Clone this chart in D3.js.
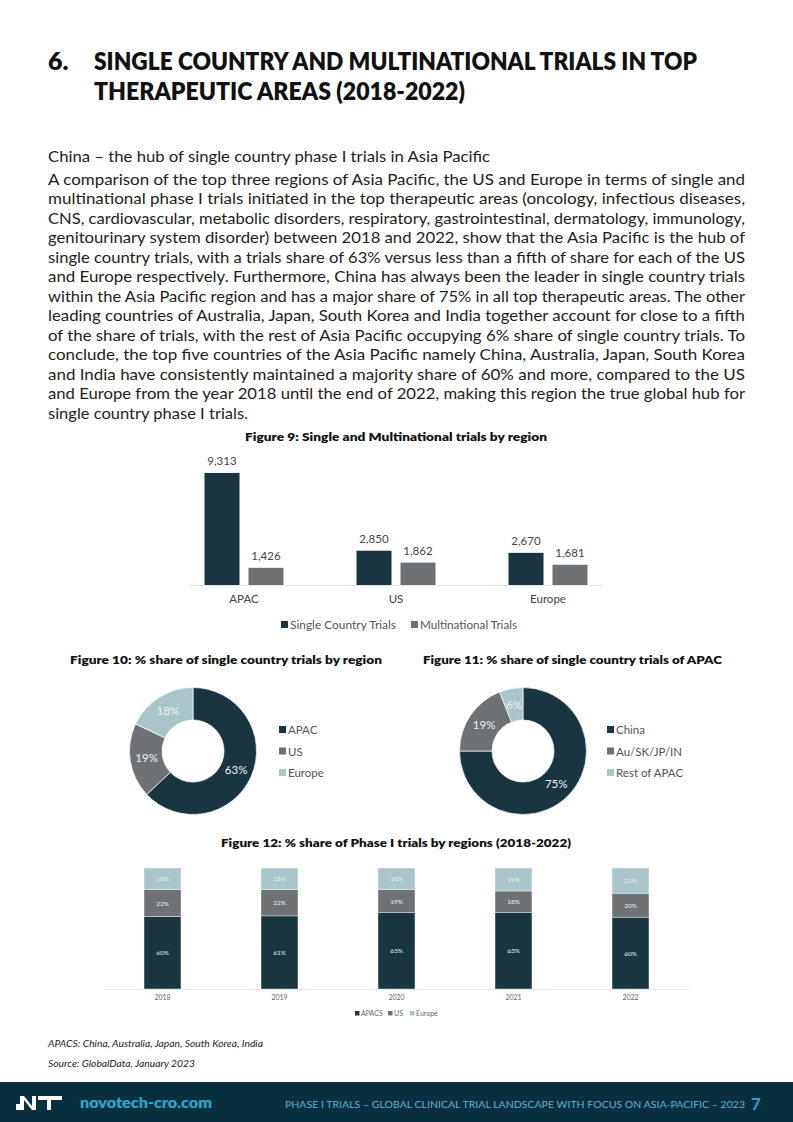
<!DOCTYPE html>
<html><head><meta charset="utf-8">
<script src="https://cdn.jsdelivr.net/npm/d3@7"></script>
<style>
html,body{margin:0;padding:0;background:#fff;}
svg{display:block;}
text{font-family:"Lato","Noto Sans",sans-serif;}
</style></head>
<body>
<svg id="page" width="793" height="1122"></svg>
<script>
// ---------- DATA ----------
const titleLines = ["SINGLE COUNTRY AND MULTINATIONAL TRIALS IN TOP", "THERAPEUTIC AREAS (2018-2022)"];
const subHeading = "China – the hub of single country phase I trials in Asia Pacific";
const paragraph = [
 "A comparison of the top three regions of Asia Pacific, the US and Europe in terms of single and",
 "multinational phase I trials initiated in the top therapeutic areas (oncology, infectious diseases,",
 "CNS, cardiovascular, metabolic disorders, respiratory, gastrointestinal, dermatology, immunology,",
 "genitourinary system disorder) between 2018 and 2022, show that the Asia Pacific is the hub of",
 "single country trials, with a trials share of 63% versus less than a fifth of share for each of the US",
 "and Europe respectively. Furthermore, China has always been the leader in single country trials",
 "within the Asia Pacific region and has a major share of 75% in all top therapeutic areas. The other",
 "leading countries of Australia, Japan, South Korea and India together account for close to a fifth",
 "of the share of trials, with the rest of Asia Pacific occupying 6% share of single country trials. To",
 "conclude, the top five countries of the Asia Pacific namely China, Australia, Japan, South Korea",
 "and India have consistently maintained a majority share of 60% and more, compared to the US",
 "and Europe from the year 2018 until the end of 2022, making this region the true global hub for",
 "single country phase I trials."
];

// Figure 9
const fig9Regions = ["APAC", "US", "Europe"];
const fig9Series = ["Single Country Trials", "Multinational Trials"];
const fig9Single = [9313, 2850, 2670];
const fig9Multi = [1426, 1862, 1681];

// Figure 10
const fig10Labels = ["APAC", "US", "Europe"];
const fig10Values = [63, 19, 18];

// Figure 11
const fig11Labels = ["China", "Au/SK/JP/IN", "Rest of APAC"];
const fig11Values = [75, 19, 6];

// Figure 12
const fig12Years = ["2018", "2019", "2020", "2021", "2022"];
const fig12Series = ["APACS", "US", "Europe"];
const fig12APACS = [60, 61, 63, 63, 60];
const fig12US = [22, 22, 19, 18, 20];
const fig12Europe = [18, 18, 18, 19, 21];

const notes = ["APACS: China, Australia, Japan, South Korea, India", "Source: GlobalData, January 2023"];
const footerSite = "novotech-cro.com";
const footerText = "PHASE I TRIALS – GLOBAL CLINICAL TRIAL LANDSCAPE WITH FOCUS ON ASIA-PACIFIC – 2023";
const pageNum = "7";

// ---------- STYLE ----------
const C_DARK = "#183540", C_GRAY = "#6e7275", C_LIGHT = "#a9c5c9";
const svg = d3.select("#page");
const TXT = "#1d1d1b";

// ---------- HEADER ----------
svg.append("text").attr("x", 48).attr("y", 70).attr("font-size", 25).attr("font-weight", 800)
  .attr("fill", "#111").text("6.");
titleLines.forEach((t, i) => {
  svg.append("text").attr("x", 94).attr("y", 70 + i * 30).attr("font-size", 25).attr("font-weight", 800)
    .attr("fill", "#111").attr("textLength", i === 0 ? 603 : 371).attr("lengthAdjust", "spacingAndGlyphs").text(t);
});
svg.append("text").attr("x", 48).attr("y", 162).attr("font-size", 15).attr("fill", TXT)
  .attr("textLength", 442).attr("lengthAdjust", "spacingAndGlyphs").text(subHeading);
paragraph.forEach((t, i) => {
  const el = svg.append("text").attr("x", 48).attr("y", 184.5 + i * 19.5).attr("font-size", 15).attr("fill", TXT).text(t);
  if (i < paragraph.length - 1) el.attr("textLength", 697).attr("lengthAdjust", "spacingAndGlyphs");
  else el.attr("textLength", 200).attr("lengthAdjust", "spacingAndGlyphs");
});

// ---------- FIGURE 9 ----------
svg.append("text").attr("x", 396).attr("y", 441).attr("text-anchor", "middle").attr("font-size", 12)
  .attr("font-weight", 800).attr("fill", "#111").attr("textLength", 302).attr("lengthAdjust", "spacingAndGlyphs")
  .text("Figure 9: Single and Multinational trials by region");
const x9 = d3.scaleBand().domain(fig9Regions).range([168, 624]);
const x9i = d3.scaleBand().domain(fig9Series).range([-39.5, 39.5]).paddingInner(0.2045);
const y9 = d3.scaleLinear().domain([0, 10000]).range([585, 464.7]);
const col9 = d3.scaleOrdinal().domain(fig9Series).range([C_DARK, C_GRAY]);
const f9data = [];
fig9Regions.forEach((r, i) => {
  f9data.push({r, s: fig9Series[0], v: fig9Single[i]});
  f9data.push({r, s: fig9Series[1], v: fig9Multi[i]});
});
svg.append("line").attr("x1", 190).attr("x2", 602).attr("y1", 585.5).attr("y2", 585.5).attr("stroke", "#e3e3e3");
const g9 = svg.append("g");
g9.selectAll("rect").data(f9data).join("rect")
  .attr("x", d => x9(d.r) + x9.bandwidth() / 2 + x9i(d.s)).attr("width", x9i.bandwidth())
  .attr("y", d => y9(d.v)).attr("height", d => y9(0) - y9(d.v)).attr("fill", d => col9(d.s));
g9.selectAll("text.v").data(f9data).join("text").attr("class", "v")
  .attr("x", d => x9(d.r) + x9.bandwidth() / 2 + x9i(d.s) + x9i.bandwidth() / 2)
  .attr("y", d => y9(d.v) - 8).attr("text-anchor", "middle").attr("font-size", 11.5).attr("fill", "#444")
  .text(d => d3.format(",")(d.v));
const ax9 = svg.append("g").attr("transform", "translate(0,585)")
  .call(d3.axisBottom(x9).tickSize(0).tickPadding(10));
ax9.select(".domain").remove();
ax9.selectAll("text").attr("font-size", 11.5).attr("fill", "#444").attr("font-family", "Lato");
const leg9 = svg.append("g");
const leg9x = [281, 411];
const leg9w = [106, 97];
fig9Series.forEach((s, i) => {
  leg9.append("rect").attr("x", leg9x[i]).attr("y", 621).attr("width", 7).attr("height", 7).attr("fill", col9(s));
  leg9.append("text").attr("x", leg9x[i] + 9).attr("y", 629).attr("font-size", 11.5).attr("fill", "#555")
    .attr("textLength", leg9w[i]).attr("lengthAdjust", "spacingAndGlyphs").text(s);
});

// ---------- DONUTS ----------
function donut(cx, cy, labels, values, colors, legX, title, titleX, titleW) {
  svg.append("text").attr("x", titleX).attr("y", 664).attr("font-size", 12).attr("font-weight", 800)
    .attr("fill", "#111").attr("textLength", titleW).attr("lengthAdjust", "spacingAndGlyphs").text(title);
  const pie = d3.pie().sort(null).value(d => d.v);
  const data = pie(labels.map((l, i) => ({l, v: values[i]})));
  const arc = d3.arc().innerRadius(31).outerRadius(63.5);
  const labArc = d3.arc().innerRadius(47).outerRadius(47);
  const col = d3.scaleOrdinal().domain(labels).range(colors);
  const g = svg.append("g").attr("transform", `translate(${cx},${cy})`);
  g.selectAll("path").data(data).join("path").attr("d", arc).attr("fill", d => col(d.data.l))
    .attr("stroke", "#fff").attr("stroke-width", 0.7);
  g.selectAll("text").data(data).join("text")
    .attr("x", d => labArc.centroid(d)[0]).attr("y", d => labArc.centroid(d)[1] + 4)
    .attr("text-anchor", "middle").attr("font-size", 11.5).attr("fill", "#eef2f3").text(d => d.data.v + "%");
  labels.forEach((l, i) => {
    svg.append("rect").attr("x", legX).attr("y", 726 + i * 21.5).attr("width", 7).attr("height", 7).attr("fill", col(l));
    svg.append("text").attr("x", legX + 9).attr("y", 734 + i * 21.5).attr("font-size", 11.5).attr("fill", "#555").text(l);
  });
}
donut(193, 751, fig10Labels, fig10Values, [C_DARK, C_GRAY, C_LIGHT], 279,
  "Figure 10: % share of single country trials by region", 70, 312);
donut(523, 751, fig11Labels, fig11Values, [C_DARK, C_GRAY, C_LIGHT], 607,
  "Figure 11: % share of single country trials of APAC", 423, 299);

// ---------- FIGURE 12 ----------
svg.append("text").attr("x", 396).attr("y", 847).attr("text-anchor", "middle").attr("font-size", 12)
  .attr("font-weight", 800).attr("fill", "#111").attr("textLength", 350).attr("lengthAdjust", "spacingAndGlyphs")
  .text("Figure 12: % share of Phase I trials by regions (2018-2022)");
const rows12 = fig12Years.map((y, i) => {
  const tot = fig12APACS[i] + fig12US[i] + fig12Europe[i];
  return {year: y, APACS: fig12APACS[i] / tot, US: fig12US[i] / tot, Europe: fig12Europe[i] / tot,
    raw: {APACS: fig12APACS[i], US: fig12US[i], Europe: fig12Europe[i]}};
});
const stack12 = d3.stack().keys(fig12Series)(rows12);
const x12 = d3.scaleBand().domain(fig12Years).range([104, 689]).paddingInner(0.684).paddingOuter(0.342);
const y12 = d3.scaleLinear().domain([0, 1]).range([989, 868]);
const col12 = d3.scaleOrdinal().domain(fig12Series).range([C_DARK, C_GRAY, C_LIGHT]);
svg.append("line").attr("x1", 104).attr("x2", 689).attr("y1", 989.5).attr("y2", 989.5).attr("stroke", "#e6e6e6");
const g12 = svg.append("g");
stack12.forEach(layer => {
  g12.selectAll(null).data(layer).join("rect")
    .attr("x", d => x12(d.data.year)).attr("width", x12.bandwidth())
    .attr("y", d => y12(d[1])).attr("height", d => y12(d[0]) - y12(d[1]))
    .attr("fill", col12(layer.key)).attr("stroke", "#fff").attr("stroke-width", 0.4);
  g12.selectAll(null).data(layer).join("text")
    .attr("x", d => x12(d.data.year) + x12.bandwidth() / 2).attr("y", d => (y12(d[0]) + y12(d[1])) / 2 + 2.5)
    .attr("text-anchor", "middle").attr("font-size", 6.5).attr("fill", "#e8eef0")
    .text(d => d.data.raw[layer.key] + "%");
});
const ax12 = svg.append("g").attr("transform", "translate(0,989)")
  .call(d3.axisBottom(x12).tickSize(0).tickPadding(6));
ax12.select(".domain").remove();
ax12.selectAll("text").attr("font-size", 7).attr("fill", "#666").attr("font-family", "Lato");
const leg12x = [355, 388, 410];
fig12Series.forEach((s, i) => {
  svg.append("rect").attr("x", leg12x[i]).attr("y", 1011).attr("width", 4.5).attr("height", 4.5).attr("fill", col12(s));
  svg.append("text").attr("x", leg12x[i] + 6).attr("y", 1016).attr("font-size", 7).attr("fill", "#666").text(s);
});

// ---------- NOTES ----------
const noteW = [215, 147];
notes.forEach((t, i) => {
  svg.append("text").attr("x", 48).attr("y", 1047 + i * 20).attr("font-size", 9.5).attr("font-style", "italic")
    .attr("fill", "#222").attr("textLength", noteW[i]).attr("lengthAdjust", "spacingAndGlyphs").text(t);
});

// ---------- FOOTER ----------
svg.append("rect").attr("x", 0).attr("y", 1082).attr("width", 793).attr("height", 40).attr("fill", "#072f3e");
const logo = svg.append("g").attr("fill", "#fff");
logo.append("path").attr("d", "M16,1110 L16,1104 L20,1104 L20,1096 L24,1096 L32,1106 L32,1096 L36,1096 L36,1110 L32,1110 L24,1100 L24,1110 Z");
logo.append("path").attr("d", "M38,1096 L62,1096 L62,1100 L51,1100 L51,1110 L47,1110 L47,1100 L38,1100 Z");
svg.append("text").attr("x", 80).attr("y", 1108).attr("font-size", 15).attr("font-weight", 800)
  .attr("fill", "#2ba3cb").attr("textLength", 132).attr("lengthAdjust", "spacingAndGlyphs").text(footerSite);
svg.append("text").attr("x", 285).attr("y", 1108).attr("font-size", 10).attr("fill", "#58b3d6")
  .attr("textLength", 460).attr("lengthAdjust", "spacingAndGlyphs").text(footerText);
svg.append("text").attr("x", 751).attr("y", 1110).attr("font-size", 17).attr("font-weight", 700)
  .attr("fill", "#2ba3cb").text(pageNum);
</script>
</body></html>
